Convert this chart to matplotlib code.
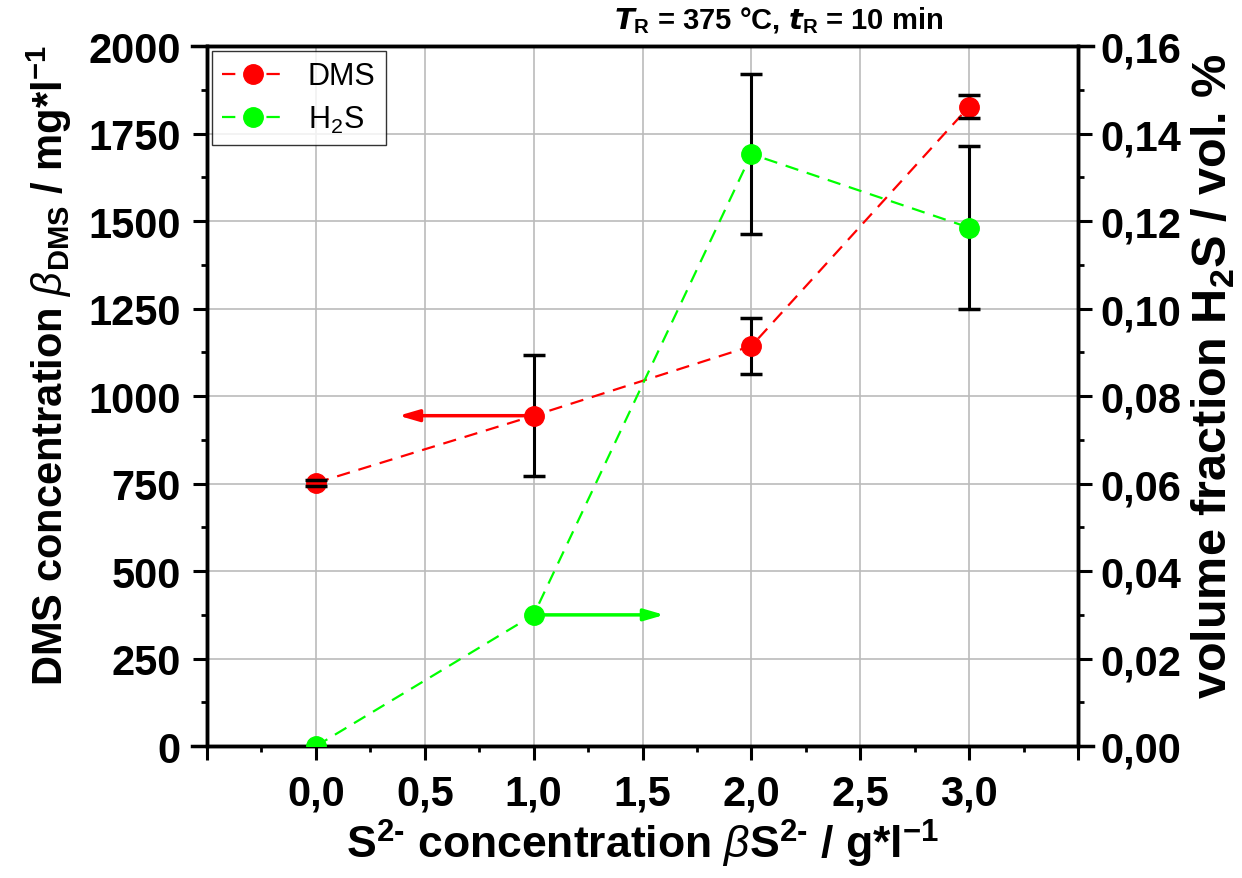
import numpy as np
import matplotlib
matplotlib.use('Agg')
import matplotlib.pyplot as plt
from matplotlib.ticker import MultipleLocator, FuncFormatter

NARROW = ['Liberation Sans Narrow', 'Liberation Sans', 'DejaVu Sans']
plt.rcParams['font.family'] = NARROW
plt.rcParams['mathtext.fontset'] = 'custom'
plt.rcParams['mathtext.rm'] = 'Liberation Sans Narrow:bold'
plt.rcParams['mathtext.bf'] = 'Liberation Sans Narrow:bold'
plt.rcParams['mathtext.it'] = 'Liberation Sans Narrow:italic:bold'
plt.rcParams['mathtext.sf'] = 'Liberation Sans:italic'

# data
s_conc = [0.0, 1.0, 2.0, 3.0]
dms = [752, 944, 1143, 1827]
dms_err = [8, 172, 79, 34]
h2s = [0.0, 0.030, 0.1353, 0.1185]
h2s_err_x = [2.0, 3.0]
h2s_err_y = [0.1353, 0.1185]
h2s_err = [0.0183, 0.0186]

red = '#ff0000'
green = '#00ff00'

fig = plt.figure(figsize=(12.42, 8.79), dpi=100)
ax1 = fig.add_axes([0.1667, 0.150, 0.7013, 0.7965])
ax2 = ax1.twinx()

# DMS on left axis
ax1.plot(s_conc, dms, color=red, ls=(0, (6, 4)), lw=1.6, marker='o', ms=14,
         mec=red, mfc=red, zorder=3, label='DMS')
e1 = ax1.errorbar(s_conc, dms, yerr=dms_err, fmt='none', ecolor='black',
                  elinewidth=2.2, capsize=8, capthick=2.5)
for c in e1[1]:
    c.set_zorder(4)
for b in e1[2]:
    b.set_zorder(2)

# H2S on right axis
ax2.plot(s_conc, h2s, color=green, ls=(0, (6, 4)), lw=1.6, marker='o', ms=14,
         mec=green, mfc=green, zorder=3, label='H$_\\mathregular{2}$S')
e2 = ax2.errorbar(h2s_err_x, h2s_err_y, yerr=h2s_err, fmt='none', ecolor='black',
                  elinewidth=2.2, capsize=8, capthick=2.5)
for c in e2[1]:
    c.set_zorder(4)
for b in e2[2]:
    b.set_zorder(2)

# axis-indicator arrows
ax1.annotate('', xy=(0.38, dms[1]), xytext=(1.0, dms[1]),
             arrowprops=dict(arrowstyle='-|>,head_length=1.2,head_width=0.35',
                             color=red, lw=2.5, shrinkA=0, shrinkB=0))
ax2.annotate('', xy=(1.6, h2s[1]), xytext=(1.0, h2s[1]),
             arrowprops=dict(arrowstyle='-|>,head_length=1.2,head_width=0.35',
                             color=green, lw=2.5, shrinkA=0, shrinkB=0))

ax1.set_xlim(-0.5, 3.5)
ax1.set_ylim(0, 2000)
ax2.set_ylim(0, 0.16)

ax1.xaxis.set_major_locator(MultipleLocator(0.5))
ax1.xaxis.set_minor_locator(MultipleLocator(0.25))
ax1.xaxis.set_major_formatter(FuncFormatter(
    lambda v, p: f'{v:.1f}'.replace('.', ',') if -0.01 < v < 3.01 else ''))
ax1.yaxis.set_major_locator(MultipleLocator(250))
ax1.yaxis.set_minor_locator(MultipleLocator(125))
ax2.yaxis.set_major_locator(MultipleLocator(0.02))
ax2.yaxis.set_minor_locator(MultipleLocator(0.01))
ax2.yaxis.set_major_formatter(FuncFormatter(lambda v, p: f'{v:.2f}'.replace('.', ',')))

for ax in (ax1, ax2):
    ax.tick_params(which='major', direction='out', length=10, width=2.2,
                   labelsize=30)
    ax.tick_params(which='minor', direction='out', length=4.5, width=2)
    for t in ax.get_xticklabels() + ax.get_yticklabels():
        t.set_fontweight('bold')
    for s in ax.spines.values():
        s.set_linewidth(2.5)
ax1.tick_params(axis='x', pad=10)
ax1.tick_params(axis='y', pad=9)
ax2.tick_params(axis='y', pad=6)
ax1.tick_params(top=False, which='both')
ax2.tick_params(top=False, which='both')
ax1.spines['bottom'].set_bounds(-0.569, 3.569)
ax1.spines['top'].set_bounds(-0.569, 3.569)

ax1.grid(True, which='major', color='#bbbbbb', lw=1.2)
ax1.set_axisbelow(True)

ax1.set_xlabel('S$^\\mathregular{2\u2010}$ concentration $\\mathsf{\\beta}$S$^\\mathregular{2\u2010}$ / g*l$^\\mathregular{-1}$',
               fontsize=32, fontweight='bold', labelpad=2)
ax1.set_ylabel('DMS concentration $\\mathsf{\\beta}_\\mathregular{DMS}$ / mg*l$^\\mathregular{-1}$',
               fontsize=30, fontweight='bold', labelpad=10)
ax2.set_ylabel('volume fraction H$_\\mathregular{2}$S / vol. %',
               fontsize=35, fontweight='bold', labelpad=6)
ax1.yaxis.label.set_y(0.545)
ax2.yaxis.label.set_y(0.53)

fig.text(0.627, 0.976, '$T_\\mathregular{R}$ = 375 °C, $t_\\mathregular{R}$ = 10 min',
         ha='center', va='center', fontsize=21, fontweight='bold')

h1, l1 = ax1.get_legend_handles_labels()
h2, l2 = ax2.get_legend_handles_labels()
leg = ax2.legend(h1 + h2, l1 + l2, loc='upper left',
                 prop={'family': ['Liberation Sans'], 'size': 22},
                 frameon=True, fancybox=False, edgecolor='black',
                 borderaxespad=0.15, handlelength=2.0, borderpad=0.35,
                 labelspacing=0.4, handletextpad=0.8)
leg.get_frame().set_linewidth(1.0)
leg.set_zorder(10)

fig.savefig('out.png', dpi=100)
